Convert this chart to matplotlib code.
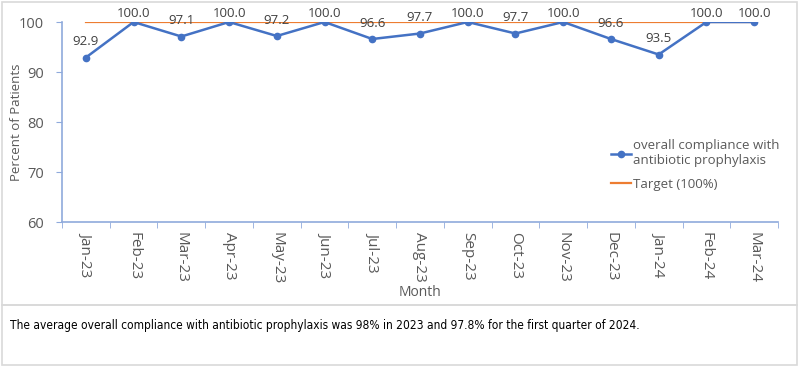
import matplotlib
matplotlib.use("Agg")
import matplotlib.pyplot as plt
from matplotlib.patches import Rectangle

months = ["Jan-23", "Feb-23", "Mar-23", "Apr-23", "May-23", "Jun-23", "Jul-23", "Aug-23",
          "Sep-23", "Oct-23", "Nov-23", "Dec-23", "Jan-24", "Feb-24", "Mar-24"]
compliance = [92.9, 100.0, 97.1, 100.0, 97.2, 100.0, 96.6, 97.7,
              100.0, 97.7, 100.0, 96.6, 93.5, 100.0, 100.0]
target = [100] * len(months)
caption = ("The average overall compliance with antibiotic prophylaxis was 98% in 2023 "
           "and 97.8% for the first quarter of 2024.")

BLUE = "#4472C4"
ORANGE = "#ED7D31"
GREY = "#595959"
AXIS = "#8FAADC"

plt.rcParams["font.family"] = ["Open Sans", "DejaVu Sans"]

fig = plt.figure(figsize=(8.0, 3.68), dpi=100)
ax = fig.add_axes([0.0775, 0.3967, 0.895, 0.5435])

x = list(range(len(months)))
ax.plot(x, compliance, "-o", color=BLUE, lw=1.8, ms=4.5,
        label="overall compliance with\nantibiotic prophylaxis", zorder=3)
ax.plot(x, target, "-", color=ORANGE, lw=1.6, label="Target (100%)", zorder=2)

for xi, v in zip(x, compliance):
    off = 9 if v >= 100 else 16
    ax.annotate(f"{v:.1f}", (xi, v), xytext=(0, off), textcoords="offset pixels",
                ha="center", va="center", fontsize=9.5, color="#404040", zorder=4)

ax.set_xlim(-0.5, len(months) - 0.5)
ax.set_ylim(60, 100)
ax.set_yticks([60, 70, 80, 90, 100])
ax.set_xticks(x)
ax.set_xticklabels(months, rotation=-90, fontsize=11, color=GREY)
ax.set_xticks([i - 0.5 for i in range(len(months) + 1)], minor=True)
ax.tick_params(axis="x", which="major", length=0, pad=7)
ax.tick_params(axis="x", which="minor", length=4, color=AXIS, direction="out")
ax.tick_params(axis="y", length=4, color=AXIS, labelsize=10.5, labelcolor=GREY, pad=9)

for s in ["top", "right"]:
    ax.spines[s].set_visible(False)
for s in ["left", "bottom"]:
    ax.spines[s].set_color(AXIS)
    ax.spines[s].set_linewidth(1.2)

ax.set_ylabel("Percent of Patients", fontsize=9.5, color=GREY)
ax.yaxis.set_label_coords(-0.054, 0.5)
ax.set_xlabel("Month", fontsize=10, color=GREY, labelpad=1)

leg = ax.legend(loc="upper left", bbox_to_anchor=(0.76, 0.44), frameon=False,
                fontsize=9.5, handlelength=1.5, handletextpad=0.15, labelspacing=0.8,
                borderaxespad=0)
for t in leg.get_texts():
    t.set_color(GREY)

# borders around chart block and caption block
fig.patches.append(Rectangle((0.002, 1 - 305 / 368), 0.994, 303 / 368, transform=fig.transFigure,
                             fill=False, ec="#D9D9D9", lw=1.2))
fig.patches.append(Rectangle((0.002, 1 - 365 / 368), 0.994, 60 / 368, transform=fig.transFigure,
                             fill=False, ec="#D9D9D9", lw=1.2))

fig.text(10 / 800, 1 - 326 / 368, caption, fontsize=8.6, color="#000000",
         family="DejaVu Sans", fontstretch="condensed", va="center", ha="left")

fig.savefig("out.png", dpi=100)
